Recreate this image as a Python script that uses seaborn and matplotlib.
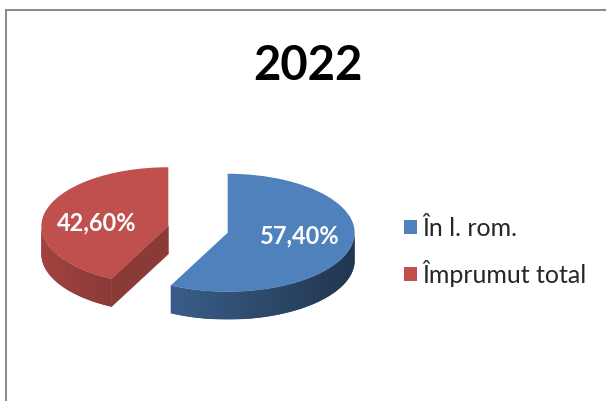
import numpy as np
import matplotlib
matplotlib.use("Agg")
import matplotlib.pyplot as plt
import matplotlib.colors as mcolors
from matplotlib.patches import Polygon, Rectangle
import seaborn as sns

# Date
categorii = ["În l. rom.", "Împrumut total"]
procente = [57.4, 42.6]
culori = ["#4f81bd", "#c0504d"]
titlu = "2022"

sns.set_style("white")
plt.rcParams["font.family"] = ["Lato", "DejaVu Sans"]

fig = plt.figure(figsize=(6.06, 4.01), dpi=100)
ax = fig.add_axes([0, 0, 1, 1])

# pie "3D": cerc turtit vertical, cu grosime
adancime = 0.47
wedges, texts, autotexts = ax.pie(
    procente, colors=culori, startangle=90, counterclock=False,
    explode=[0.24, 0.24], autopct=lambda p: f"{p:.2f}%".replace(".", ","),
    pctdistance=0.58, wedgeprops=dict(linewidth=0, zorder=3),
    textprops=dict(color="white", fontsize=17, fontweight="bold"))
for t in autotexts:
    x, y = t.get_position()
    t.set_position((x, y * 0.62))
    t.set_zorder(5)


def umbrire(culoare, f):
    r, g, b = mcolors.to_rgb(culoare)
    return np.array([r * f, g * f, b * f])


for w, c in zip(wedges, culori):
    cx, cy = w.center
    r = w.r
    ung = np.radians(np.linspace(w.theta1, w.theta2, 400))
    vizibil = ung[np.sin(ung) < 0]
    # peretele exterior (doar partea din fata), cu gradient pe orizontala
    if len(vizibil) > 1:
        xs = cx + r * np.cos(vizibil)
        ys = cy + r * np.sin(vizibil)
        pts = list(zip(xs, ys)) + list(zip(xs[::-1], ys[::-1] - adancime))
        perete = Polygon(pts, closed=True, facecolor=umbrire(c, 0.7), linewidth=0, zorder=1)
        ax.add_patch(perete)
        gx = np.linspace(xs.min(), xs.max(), 200)
        fact = 0.84 - 0.42 * (np.clip((gx - cx) / r, -1, 1) + 1) / 2
        grad = np.array([[umbrire(c, f) for f in fact]])
        im = ax.imshow(grad, extent=(gx.min(), gx.max(), ys.min() - adancime, ys.max()),
                       aspect="auto", interpolation="bilinear", zorder=1.5)
        im.set_clip_path(perete)
    # fetele taiate
    for t, semn in [(w.theta1, -1), (w.theta2, 1)]:
        normala = np.radians(t + semn * 90)
        if np.sin(normala) >= -0.05:
            continue
        a = np.radians(t)
        xa, ya = cx + r * np.cos(a), cy + r * np.sin(a)
        ax.add_patch(Polygon([(cx, cy), (xa, ya), (xa, ya - adancime), (cx, cy - adancime)],
                             closed=True, facecolor=umbrire(c, 0.72), edgecolor=umbrire(c, 0.72),
                             linewidth=0.4, zorder=2))

# scara: 1 unitate = 127 px orizontal, 59 px vertical; centrul la (198, 229.5) px
ax.set_aspect("auto")
ax.set_xlim(-198 / 127, (606 - 198) / 127)
ax.set_ylim(-(401 - 229.5) / 59, 229.5 / 59)
ax.axis("off")

fig.text(308 / 606, 1 - 66 / 401, titlu, ha="center", va="center",
         fontsize=34, fontweight="bold", color="black")

leg = fig.legend(wedges, categorii, loc="center left", bbox_to_anchor=(394 / 606, 1 - 252 / 401),
                 frameon=False, fontsize=18, handlelength=0.5, handleheight=0.5,
                 handletextpad=0.22, labelspacing=0.8, borderaxespad=0)

# chenarul graficului
fig.add_artist(Rectangle((6 / 606, -0.1), 1.2, 1 - 10 / 401 + 0.1, transform=fig.transFigure,
                         fill=False, edgecolor="#8c8c8c", linewidth=1.5))

fig.savefig("out.png", dpi=100)
